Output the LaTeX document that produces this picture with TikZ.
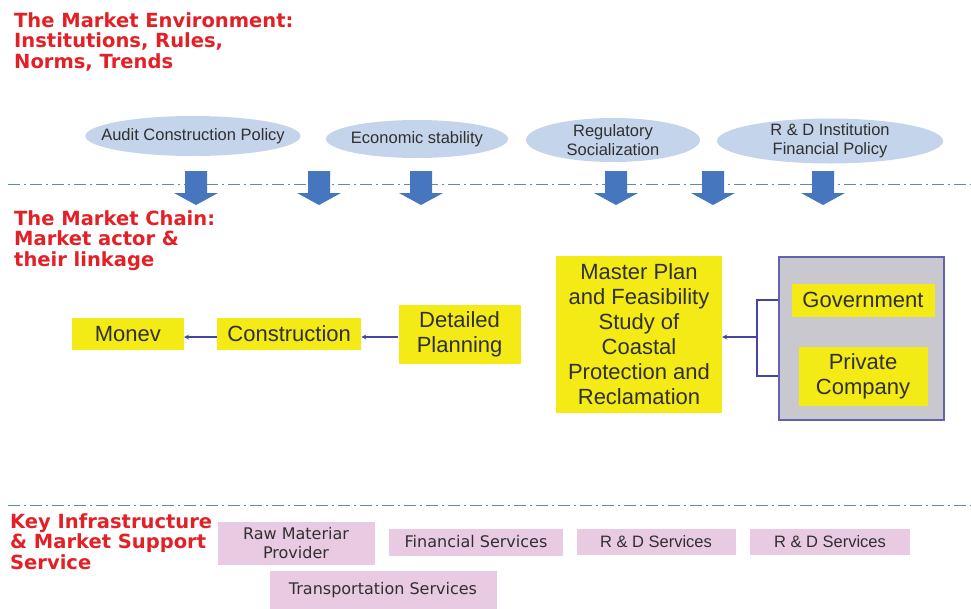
\documentclass[tikz,border=0pt]{standalone}
\usepackage{fontspec}
\setmainfont{Liberation Sans}
\newfontfamily\headfont{DejaVu Sans}
\usetikzlibrary{positioning,shapes.geometric}

\definecolor{headred}{RGB}{226,32,38}
\definecolor{ovalblue}{RGB}{196,212,234}
\definecolor{arrowblue}{RGB}{70,118,190}
\definecolor{boxyellow}{RGB}{244,234,22}
\definecolor{groupgray}{RGB}{200,200,206}
\definecolor{groupline}{RGB}{98,98,178}
\definecolor{linkblue}{RGB}{68,68,165}
\definecolor{supportpink}{RGB}{232,202,226}
\definecolor{sepline}{RGB}{105,135,172}
\definecolor{textgray}{RGB}{48,48,48}

\begin{document}
\begin{tikzpicture}[x=1pt,y=-1pt,>=stealth,node distance=35pt,
  title/.style={anchor=north west,align=left,inner sep=0pt,text=headred,font=\headfont\bfseries\fontsize{19.5}{20.5}\selectfont},
  oval/.style={ellipse,fill=ovalblue,text=textgray,align=center,inner xsep=-30pt,inner ysep=-10pt,font=\fontsize{16.5}{19}\selectfont},
  chain/.style={fill=boxyellow,text=textgray,align=center,inner sep=0pt,font=\fontsize{22}{25}\selectfont},
  support/.style={fill=supportpink,text=textgray,align=center,inner sep=0pt,font=\headfont\fontsize{16}{19}\selectfont},
  sep/.style={sepline,line width=1pt,dash pattern=on 12pt off 4pt on 2pt off 4pt},
  link/.style={linkblue,line width=1.2pt}]

\useasboundingbox (0,0) rectangle (971,608);

\node[title] (env) at (14,12) {The Market Environment:\\Institutions, Rules,\\Norms, Trends};

\node[oval,minimum width=215pt,minimum height=40pt] (o1) at (193,136) {Audit Construction Policy};
\node[oval,minimum width=182pt,minimum height=38pt] (o2) at (417,139) {Economic stability};
\node[oval,minimum width=174pt,minimum height=44pt] (o3) at (613,140) {Regulatory\\Socialization};
\node[oval,minimum width=226pt,minimum height=45pt] (o4) at (830,141) {R \& D Institution\\Financial Policy};

\draw[sep] (8,184) -- (971,184);
\foreach \x in {196,319,421,616,713,823}
  \fill[arrowblue] (\x-11,171) -- (\x+11,171) -- (\x+11,193) -- (\x+22,193)
    -- (\x,205) -- (\x-22,193) -- (\x-11,193) -- cycle;

\node[title] (chaintitle) at (14,210) {The Market Chain:\\Market actor \&\\their linkage};

\node[chain,minimum width=166pt,minimum height=157pt] (master) at (639,334)
  {Master Plan\\and Feasibility\\Study of\\Coastal\\Protection and\\Reclamation};
\node[chain,minimum width=122pt,minimum height=59pt] (det) [left=of master] {Detailed\\Planning};
\node[chain,minimum width=144pt,minimum height=32pt] (cons) [left=37pt of det] {Construction};
\node[chain,minimum width=112pt,minimum height=32pt] (monev) [left=33pt of cons] {Monev};

\node[fill=groupgray,draw=groupline,line width=1.2pt,minimum width=165pt,minimum height=163pt] (grp) at (861.5,338.5) {};
\node[chain,minimum width=143pt,minimum height=33pt] (govt) at (863,300) {Government};
\node[chain,minimum width=129pt,minimum height=59pt] (priv) at (863,376) {Private\\Company};

\coordinate (split) at (757,337);
\draw[link] (grp.west |- govt) -| (split) |- (grp.west |- priv);
\draw[link,->] (split) -- (master.east |- split);
\draw[link,->] (det.west |- split) -- (cons.east |- split);
\draw[link,->] (cons.west |- split) -- (monev.east |- split);

\draw[sep] (8,505) -- (971,505);

\node[title] (keytitle) at (10,513) {Key Infrastructure\\\& Market Support\\Service};

\node[support,minimum width=157pt,minimum height=43pt] (raw) at (296,543) {Raw Materiar\\Provider};
\node[support,minimum width=174pt,minimum height=27pt] (fin) at (476,542) {Financial Services};
\node[support,minimum width=159pt,minimum height=26pt,font=\fontsize{16.5}{19}\selectfont] (rd1) at (656,542) {R \& D Services};
\node[support,minimum width=160pt,minimum height=26pt,font=\fontsize{16.5}{19}\selectfont] (rd2) at (830,542) {R \& D Services};
\node[support,minimum width=227pt,minimum height=38pt] (trans) at (383,590) {Transportation Services};

\end{tikzpicture}
\end{document}
